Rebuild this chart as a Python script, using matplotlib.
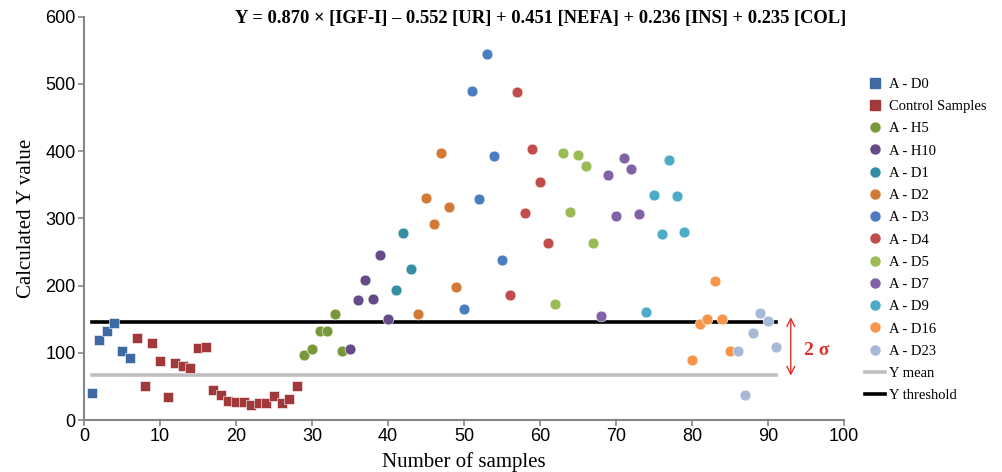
import matplotlib
matplotlib.use("Agg")
import matplotlib.pyplot as plt
from matplotlib.lines import Line2D

# ---------------- data ----------------
d0_x = [1, 2, 3, 4, 5, 6]
d0_y = [40, 119, 132, 144, 102, 92]

ctrl_x = list(range(7, 29))
ctrl_y = [122, 51, 114, 88, 34, 85, 80, 77, 107, 108, 44, 37, 29, 27, 27, 23,
          25, 25, 36, 25, 32, 51]

h5_x = [29, 30, 31, 32, 33, 34]
h5_y = [97, 105, 132, 133, 157, 103]

h10_x = [35, 36, 37, 38, 39, 40]
h10_y = [105, 178, 208, 180, 245, 151]

d1_x = [41, 42, 43]
d1_y = [193, 278, 225]

d2_x = [44, 45, 46, 47, 48, 49]
d2_y = [157, 330, 291, 397, 317, 198]

d3_x = [50, 51, 52, 53, 54, 55]
d3_y = [165, 490, 328, 545, 392, 238]

d4_x = [56, 57, 58, 59, 60, 61]
d4_y = [186, 488, 308, 403, 354, 263]

d5_x = [62, 63, 64, 65, 66, 67]
d5_y = [172, 397, 309, 394, 378, 263]

d7_x = [68, 69, 70, 71, 72, 73]
d7_y = [155, 364, 304, 389, 373, 307]

d9_x = [74, 75, 76, 77, 78, 79]
d9_y = [161, 334, 277, 387, 333, 279]

d16_x = [80, 81, 82, 83, 84, 85]
d16_y = [89, 143, 151, 207, 150, 103]

d23_x = [86, 87, 88, 89, 90, 91]
d23_y = [103, 38, 130, 159, 148, 108]

y_mean = 67
y_threshold = 146
line_x = [1, 91]

series = [
    ("A - D0", d0_x, d0_y, "s", "#3E6AA3"),
    ("Control Samples", ctrl_x, ctrl_y, "s", "#A1393A"),
    ("A - H5", h5_x, h5_y, "o", "#79983B"),
    ("A - H10", h10_x, h10_y, "o", "#644A86"),
    ("A - D1", d1_x, d1_y, "o", "#348EA1"),
    ("A - D2", d2_x, d2_y, "o", "#D27A35"),
    ("A - D3", d3_x, d3_y, "o", "#4A7EC0"),
    ("A - D4", d4_x, d4_y, "o", "#C04D4B"),
    ("A - D5", d5_x, d5_y, "o", "#9BBB55"),
    ("A - D7", d7_x, d7_y, "o", "#8262A6"),
    ("A - D9", d9_x, d9_y, "o", "#4BABC8"),
    ("A - D16", d16_x, d16_y, "o", "#F7964A"),
    ("A - D23", d23_x, d23_y, "o", "#A8B8D8"),
]

# ---------------- figure ----------------
fig = plt.figure(figsize=(10.02, 4.72), dpi=100)
ax = fig.add_axes([0.0838, 0.110, 0.7585, 0.855])

serif = ["Liberation Serif", "DejaVu Serif"]
sans = ["Liberation Sans", "DejaVu Sans"]

ax.plot(line_x, [y_mean, y_mean], color="#BFBFBF", lw=2.6,
        solid_capstyle="projecting", zorder=2, label="Y mean")
ax.plot(line_x, [y_threshold, y_threshold], color="black", lw=2.6,
        solid_capstyle="projecting", zorder=2, label="Y threshold")

handles = []
for name, xs, ys, mk, col in series:
    ms = 7.4 if mk == "s" else 7.8
    ax.plot(xs, ys, linestyle="none", marker=mk, ms=ms, color=col,
            mec="white", mew=0.4, zorder=3)
    handles.append(Line2D([], [], linestyle="none", marker=mk, ms=6.5,
                          color=col, mec=col, label=name))
handles.append(Line2D([], [], color="#BFBFBF", lw=2.6, label="Y mean"))
handles.append(Line2D([], [], color="black", lw=2.6, label="Y threshold"))

# 2 sigma arrow
ax.annotate("", xy=(93.0, 153), xytext=(93.0, 66),
            arrowprops=dict(arrowstyle="<->", color="#E0302A", lw=1.0,
                            mutation_scale=14, shrinkA=0, shrinkB=0),
            annotation_clip=False)
ax.text(94.8, 104, "2 σ", color="#E0302A", fontsize=14, family=serif,
        fontweight="bold", va="center", ha="left", clip_on=False)

ax.set_xlim(0, 100)
ax.set_ylim(0, 600)
ax.set_xticks(range(0, 101, 10))
ax.set_yticks(range(0, 601, 100))
for s in ["top", "right"]:
    ax.spines[s].set_visible(False)
for s in ["left", "bottom"]:
    ax.spines[s].set_color("#868686")
    ax.spines[s].set_linewidth(1.5)
ax.tick_params(axis="both", direction="out", length=4, width=1.2,
               color="#868686", labelsize=13, pad=2)
for lab in ax.get_xticklabels() + ax.get_yticklabels():
    lab.set_family(sans)

ax.set_xlabel("Number of samples", fontsize=15, family=serif, labelpad=5)
ax.set_ylabel("Calculated Y value", fontsize=15, family=serif, labelpad=7)

fig.text(0.540, 0.960,
         "Y = 0.870 × [IGF-I] – 0.552 [UR] + 0.451 [NEFA] + 0.236 [INS] + 0.235 [COL]",
         ha="center", va="center", fontsize=13.3, fontweight="bold",
         family=serif)

leg = fig.legend(handles=handles, loc="upper left",
                 bbox_to_anchor=(0.857, 0.848), frameon=False,
                 prop={"family": serif, "size": 10.5},
                 handlelength=1.4, handletextpad=0.3, labelspacing=0.62,
                 borderaxespad=0)

fig.savefig("out.png", dpi=100)
